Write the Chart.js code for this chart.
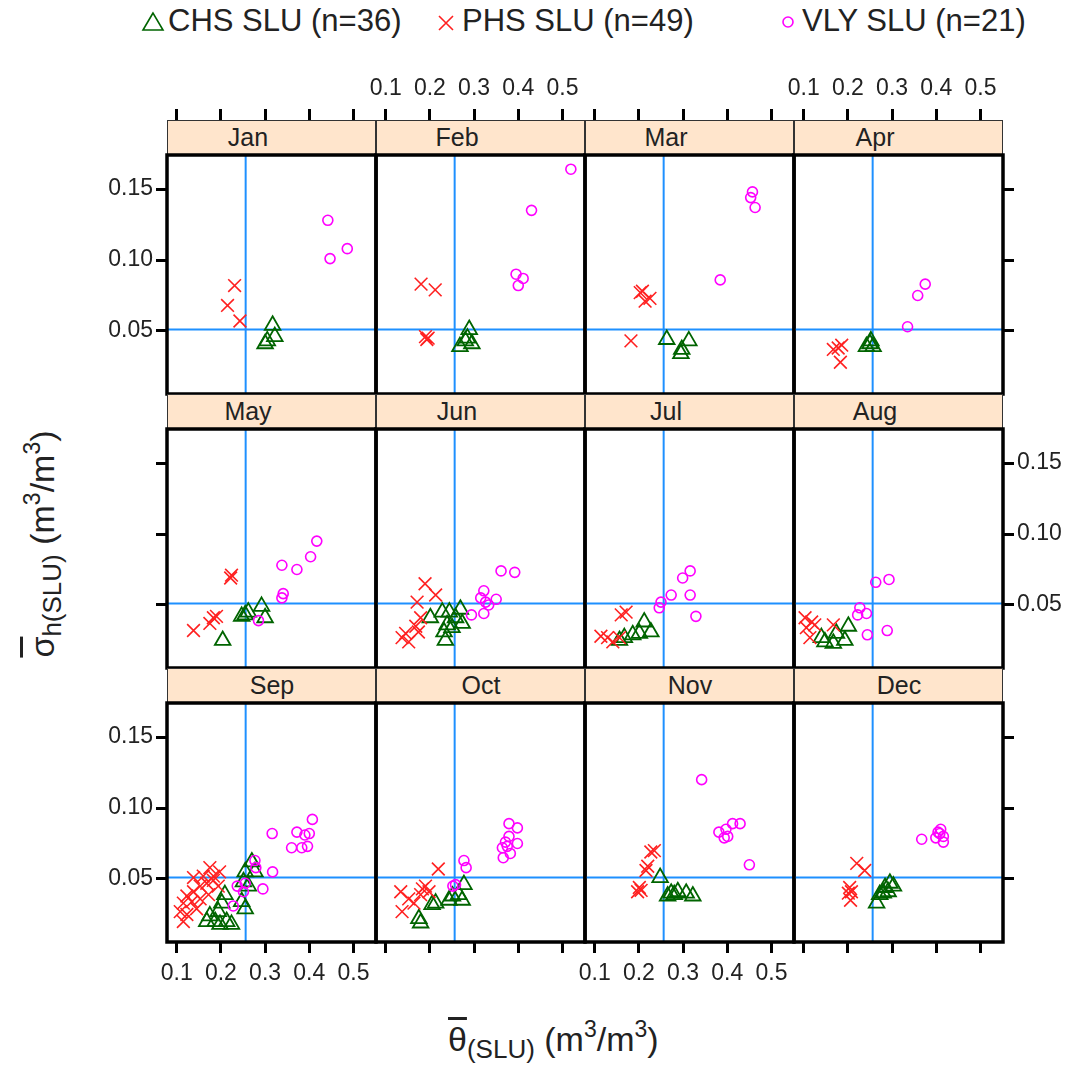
<!DOCTYPE html>
<html>
<head>
<meta charset="utf-8">
<script src="https://cdn.jsdelivr.net/npm/chart.js@4.4.1/dist/chart.umd.min.js"></script>
<style>
  body { margin: 0; background: #fff; width: 1082px; height: 1071px; position: relative; overflow: hidden;
         font-family: "Liberation Sans", Arial, sans-serif; color: #222; }
  .strip { position: absolute; box-sizing: border-box; background: #ffe5cc; border: 1.5px solid #333;
           font-size: 25px; line-height: 32px; }
  .strip span { position: absolute; top: 0; transform: translateX(-50%); white-space: nowrap; }
  canvas { position: absolute; }
  .leg { position: absolute; top: 4px; font-size: 31px; line-height: 34px; white-space: nowrap; }
  .legsym { position: absolute; }
  .title { position: absolute; font-size: 34px; line-height: 44px; white-space: nowrap; }
  .title sub { font-size: 26px; vertical-align: -7px; }
  .title sup { font-size: 23px; vertical-align: 14px; }
  .ov { text-decoration: overline; }
</style>
</head>
<body>
<!-- legende -->
<svg class="legsym" style="left:140px;top:10px" width="26" height="24"><polygon points="13,3 3,20 23,20" fill="none" stroke="#006400" stroke-width="1.6"/></svg>
<div class="leg" style="left:168px">CHS SLU (n=36)</div>
<svg class="legsym" style="left:435px;top:12px" width="22" height="22"><path d="M4,4 L18,18 M18,4 L4,18" stroke="#ff2020" stroke-width="1.6"/></svg>
<div class="leg" style="left:462px">PHS SLU (n=49)</div>
<svg class="legsym" style="left:780px;top:14px" width="16" height="16"><circle cx="8" cy="8" r="5" fill="none" stroke="#ff00ff" stroke-width="1.6"/></svg>
<div class="leg" style="left:802px">VLY SLU (n=21)</div>

<div class="title" style="left:448px;top:1007px"><span class="ov">θ</span><sub>(SLU)</sub> (m<sup>3</sup>/m<sup>3</sup>)</div>
<div class="title" style="left:-118px;top:512px;transform:rotate(-90deg);transform-origin:center;width:320px;text-align:center"><span class="ov">σ</span><sub>h(SLU)</sub> (m<sup>3</sup>/m<sup>3</sup>)</div>

<script>
// meses (ordem do painel)
var months = ['Jan', 'Feb', 'Mar', 'Apr', 'May', 'Jun', 'Jul', 'Aug', 'Sep', 'Oct', 'Nov', 'Dec'];

// CHS SLU: theta medio e sigma_h, um array por mes
var chsTheta = [
  [0.317, 0.322, 0.305, 0.300],
  [0.289, 0.280, 0.295, 0.268, 0.285],
  [0.263, 0.313, 0.297, 0.295],
  [0.250, 0.242, 0.257, 0.252],
  [0.292, 0.262, 0.247, 0.300, 0.204, 0.255],
  [0.201, 0.228, 0.244, 0.269, 0.239, 0.232, 0.235, 0.273, 0.258, 0.250],
  [0.212, 0.227, 0.186, 0.167, 0.201, 0.156],
  [0.201, 0.193, 0.167, 0.148, 0.174, 0.140],
  [0.270, 0.277, 0.255, 0.251, 0.262, 0.247, 0.255, 0.209, 0.202, 0.194, 0.187, 0.168, 0.213, 0.224, 0.175, 0.198],
  [0.277, 0.265, 0.251, 0.243, 0.213, 0.205, 0.175, 0.179, 0.273],
  [0.248, 0.273, 0.288, 0.307, 0.322, 0.280, 0.265],
  [0.265, 0.272, 0.284, 0.295, 0.303, 0.291, 0.280]
];
var chsSigma = [
  [0.054, 0.046, 0.043, 0.041],
  [0.051, 0.043, 0.041, 0.039, 0.045],
  [0.044, 0.043, 0.037, 0.034],
  [0.041, 0.039, 0.039, 0.043],
  [0.049, 0.045, 0.042, 0.041, 0.025, 0.043],
  [0.041, 0.045, 0.045, 0.047, 0.036, 0.031, 0.025, 0.037, 0.041, 0.034],
  [0.038, 0.031, 0.029, 0.027, 0.030, 0.025],
  [0.035, 0.025, 0.023, 0.024, 0.030, 0.027],
  [0.062, 0.055, 0.055, 0.048, 0.045, 0.034, 0.029, 0.039, 0.033, 0.027, 0.020, 0.020, 0.020, 0.018, 0.024, 0.018],
  [0.046, 0.039, 0.038, 0.035, 0.033, 0.032, 0.022, 0.019, 0.035],
  [0.051, 0.040, 0.041, 0.040, 0.038, 0.039, 0.038],
  [0.033, 0.039, 0.044, 0.047, 0.045, 0.041, 0.040]
];

// PHS SLU
var phsTheta = [
  [0.231, 0.215, 0.243],
  [0.180, 0.212, 0.193, 0.190, 0.196],
  [0.208, 0.225, 0.214, 0.203, 0.182],
  [0.178, 0.186, 0.167, 0.183],
  [0.222, 0.224, 0.183, 0.175, 0.190, 0.138],
  [0.189, 0.213, 0.171, 0.179, 0.168, 0.145, 0.137, 0.152, 0.174],
  [0.160, 0.171, 0.129, 0.114, 0.141, 0.156],
  [0.118, 0.106, 0.114, 0.167, 0.103, 0.125],
  [0.138, 0.160, 0.183, 0.197, 0.183, 0.168, 0.153, 0.138, 0.123, 0.115, 0.134, 0.153, 0.108, 0.123, 0.115, 0.145, 0.172, 0.194, 0.175],
  [0.219, 0.190, 0.198, 0.183, 0.134, 0.152, 0.164, 0.137, 0.179],
  [0.235, 0.227, 0.220, 0.216, 0.201, 0.205, 0.197],
  [0.220, 0.238, 0.204, 0.208, 0.201, 0.206]
];
var phsSigma = [
  [0.082, 0.068, 0.057],
  [0.083, 0.079, 0.044, 0.046, 0.045],
  [0.078, 0.073, 0.071, 0.077, 0.043],
  [0.038, 0.040, 0.037, 0.028],
  [0.069, 0.071, 0.041, 0.037, 0.042, 0.032],
  [0.065, 0.057, 0.052, 0.041, 0.035, 0.030, 0.027, 0.024, 0.031],
  [0.043, 0.045, 0.027, 0.028, 0.024, 0.027],
  [0.038, 0.034, 0.027, 0.036, 0.041, 0.036],
  [0.051, 0.052, 0.052, 0.055, 0.049, 0.047, 0.045, 0.041, 0.038, 0.033, 0.034, 0.036, 0.027, 0.025, 0.020, 0.029, 0.039, 0.045, 0.058],
  [0.057, 0.045, 0.041, 0.043, 0.041, 0.036, 0.033, 0.027, 0.039],
  [0.070, 0.069, 0.059, 0.056, 0.044, 0.042, 0.041],
  [0.061, 0.056, 0.044, 0.041, 0.040, 0.035]
];

// VLY SLU
var vlyTheta = [
  [0.442, 0.486, 0.447],
  [0.519, 0.430, 0.395, 0.411, 0.400],
  [0.457, 0.453, 0.463, 0.384],
  [0.375, 0.358, 0.335],
  [0.417, 0.403, 0.372, 0.338, 0.341, 0.338, 0.285],
  [0.361, 0.392, 0.322, 0.315, 0.350, 0.333, 0.294, 0.322, 0.326],
  [0.316, 0.299, 0.273, 0.316, 0.250, 0.246, 0.329],
  [0.293, 0.263, 0.227, 0.242, 0.222, 0.289, 0.244],
  [0.407, 0.372, 0.400, 0.390, 0.316, 0.360, 0.383, 0.396, 0.317, 0.277, 0.279, 0.295, 0.255, 0.237, 0.228, 0.251],
  [0.379, 0.398, 0.379, 0.398, 0.371, 0.364, 0.382, 0.366, 0.375, 0.277, 0.282, 0.258, 0.252],
  [0.342, 0.412, 0.429, 0.381, 0.397, 0.401, 0.393, 0.450],
  [0.367, 0.404, 0.410, 0.416, 0.399, 0.416, 0.408]
];
var vlySigma = [
  [0.128, 0.108, 0.101],
  [0.164, 0.135, 0.090, 0.087, 0.082],
  [0.148, 0.144, 0.137, 0.086],
  [0.083, 0.075, 0.053],
  [0.095, 0.084, 0.075, 0.078, 0.058, 0.055, 0.039],
  [0.074, 0.073, 0.060, 0.055, 0.054, 0.050, 0.043, 0.044, 0.052],
  [0.074, 0.069, 0.057, 0.057, 0.052, 0.048, 0.042],
  [0.068, 0.066, 0.048, 0.044, 0.043, 0.032, 0.029],
  [0.092, 0.083, 0.082, 0.081, 0.082, 0.072, 0.072, 0.073, 0.055, 0.063, 0.058, 0.043, 0.047, 0.045, 0.031, 0.041],
  [0.089, 0.086, 0.080, 0.075, 0.076, 0.072, 0.068, 0.065, 0.073, 0.063, 0.058, 0.046, 0.045],
  [0.120, 0.089, 0.089, 0.083, 0.085, 0.080, 0.079, 0.060],
  [0.078, 0.083, 0.085, 0.080, 0.079, 0.076, 0.082]
];

// linhas de referencia (azuis) e escalas
var refTheta = 0.256;
var refSigma = 0.051;
var xTicks = [0.1, 0.2, 0.3, 0.4, 0.5];
var yTicks = [0.05, 0.10, 0.15];
var xMin = 0.078, xMax = 0.551;
var yMin = 0.0056, yMax = 0.174;

// geometria da grade de paineis
var COL_LEFT = 167, COL_W = 209;
var ROW_TOP = 120, STRIP_H = 35, PANEL_H = 239;
var M = 70;
var FONT = '"Liberation Sans", Arial, sans-serif';

function pts(xs, ys) {
  var out = [];
  for (var i = 0; i < xs.length; i++) out.push({ x: xs[i], y: ys[i] });
  return out;
}

// desenha a moldura preta grossa do painel
var frame = {
  id: 'frame',
  afterDatasetsDraw: function(chart) {
    var a = chart.chartArea, ctx = chart.ctx;
    ctx.save();
    ctx.lineWidth = 3.5;
    ctx.strokeStyle = '#000';
    ctx.strokeRect(a.left, a.top, a.right - a.left, a.bottom - a.top);
    ctx.restore();
  }
};

function axis(pos, weight, isX, size, showTicks, showLabels, min, max, vals, dec) {
  return {
    type: 'linear', position: pos, weight: weight, min: min, max: max, display: true,
    afterFit: function(s) { if (isX) s.height = size; else s.width = size; },
    afterBuildTicks: function(s) { s.ticks = vals.map(function(v) { return { value: v }; }); },
    grid: { display: showTicks, drawOnChartArea: false, drawTicks: true, tickLength: 11, lineWidth: 3, color: '#000' },
    border: { display: false },
    ticks: {
      display: showTicks, autoSkip: false, maxRotation: 0, padding: isX ? 7 : 3,
      color: showLabels ? '#222' : 'rgba(0,0,0,0)',
      font: { size: 23, family: FONT },
      callback: function(v) { return Number(v).toFixed(dec); }
    }
  };
}

for (var m = 0; m < 12; m++) {
  var col = m % 4, row = Math.floor(m / 4);
  var panelLeft = COL_LEFT + col * COL_W;
  var stripTop = ROW_TOP + row * (STRIP_H + PANEL_H);
  var panelTop = stripTop + STRIP_H;
  var extraTop = row === 0 ? STRIP_H : 0;

  var strip = document.createElement('div');
  strip.className = 'strip';
  strip.style.left = panelLeft + 'px';
  strip.style.top = stripTop + 'px';
  strip.style.width = COL_W + 'px';
  strip.style.height = STRIP_H + 'px';
  var lab = document.createElement('span');
  lab.style.left = (row === 2 ? 104 : 80) + 'px';
  lab.textContent = months[m];
  strip.appendChild(lab);
  document.body.appendChild(strip);

  var cv = document.createElement('canvas');
  cv.width = COL_W + 2 * M;
  cv.height = PANEL_H + 2 * M + extraTop;
  cv.style.left = (panelLeft - M) + 'px';
  cv.style.top = (panelTop - M - extraTop) + 'px';
  document.body.appendChild(cv);

  var scales = {
    x: axis('bottom', 0, true, M, row === 2, row === 2 && col % 2 === 0, xMin, xMax, xTicks, 1),
    xt: axis('top', 2, true, M, row === 0, row === 0 && col % 2 === 1, xMin, xMax, xTicks, 1),
    y: axis('left', 0, false, M, col === 0, col === 0 && row !== 1, yMin, yMax, yTicks, 2),
    yr: axis('right', 0, false, M, col === 3, col === 3 && row === 1, yMin, yMax, yTicks, 2)
  };
  if (row === 0) {
    scales.xs = {
      type: 'linear', position: 'top', weight: 1, min: xMin, max: xMax, display: true,
      afterFit: function(s) { s.height = STRIP_H; },
      grid: { display: false }, border: { display: false }, ticks: { display: false }
    };
  }

  new Chart(cv.getContext('2d'), {
    type: 'scatter',
    data: {
      datasets: [
        { label: 'VLY SLU (n=21)', data: pts(vlyTheta[m], vlySigma[m]), order: 1,
          pointStyle: 'circle', pointRadius: 5, borderColor: '#ff00ff', backgroundColor: 'rgba(0,0,0,0)', borderWidth: 1.6 },
        { label: 'PHS SLU (n=49)', data: pts(phsTheta[m], phsSigma[m]), order: 2,
          pointStyle: 'crossRot', pointRadius: 9, borderColor: '#ff2020', backgroundColor: 'rgba(0,0,0,0)', borderWidth: 1.6 },
        { label: 'CHS SLU (n=36)', data: pts(chsTheta[m], chsSigma[m]), order: 3,
          pointStyle: 'triangle', pointRadius: 9, borderColor: '#006400', backgroundColor: 'rgba(0,0,0,0)', borderWidth: 1.8 },
        { type: 'line', data: [{ x: refTheta, y: yMin }, { x: refTheta, y: yMax }], order: 4,
          borderColor: '#1e90ff', borderWidth: 2, pointRadius: 0, showLine: true },
        { type: 'line', data: [{ x: xMin, y: refSigma }, { x: xMax, y: refSigma }], order: 4,
          borderColor: '#1e90ff', borderWidth: 2, pointRadius: 0, showLine: true }
      ]
    },
    options: {
      responsive: false,
      animation: false,
      events: [],
      layout: { padding: 0, autoPadding: false },
      plugins: { legend: { display: false }, tooltip: { enabled: false } },
      scales: scales
    },
    plugins: [frame]
  });
}
</script>
</body>
</html>
